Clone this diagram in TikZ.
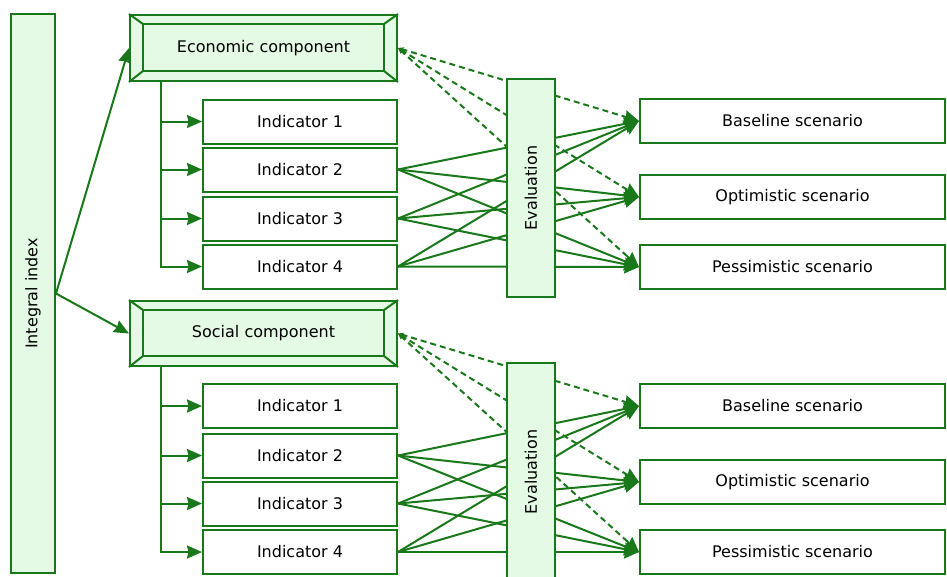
\documentclass[tikz,border=0pt]{standalone}
\usepackage{fontspec}
\setmainfont{DejaVu Sans}
\usepackage{tikz}
\usetikzlibrary{arrows.meta, positioning, calc}
\definecolor{linegreen}{RGB}{25,120,25}
\definecolor{boxgreen}{RGB}{228,250,228}

\begin{document}
\begin{tikzpicture}[
    x=1pt, y=-1pt,
    every node/.style={draw=linegreen, line width=2pt, font=\fontsize{16}{19}\selectfont, align=center, inner sep=0pt},
    plainbox/.style={fill=white, minimum width=194pt, minimum height=44pt},
    scenbox/.style={fill=white, minimum width=305pt, minimum height=44pt},
    compbox/.style={fill=boxgreen, minimum width=267pt, minimum height=66pt},
    evalbox/.style={fill=boxgreen, minimum width=48pt, minimum height=218pt},
    link/.style={draw=linegreen, line width=2pt, -{Stealth[length=15pt, width=13pt, inset=1.5pt]}},
    dlink/.style={link, dash pattern=on 6pt off 4pt, {Stealth[length=6pt, width=5pt]}-{Stealth[length=15pt, width=13pt, inset=1.5pt]}}
]
    \useasboundingbox (0,0) rectangle (947,576);

    \node[fill=boxgreen, minimum width=44pt, minimum height=559pt] (intidx) at (33,293.5) {\rotatebox{90}{Integral index}};

    % economic part
    \node[compbox] (econ) at (263.5,48) {Economic component};
    \node[plainbox] (e1) at (300,121.5) {Indicator 1};
    \node[plainbox] (e2) at (300,169.5) {Indicator 2};
    \node[plainbox] (e3) at (300,218.5) {Indicator 3};
    \node[plainbox] (e4) at (300,266.5) {Indicator 4};
    \node[scenbox] (eb) at (792.5,121) {Baseline scenario};
    \node[scenbox] (eo) at (792.5,197) {Optimistic scenario};
    \node[scenbox] (ep) at (792.5,267) {Pessimistic scenario};

    % social part
    \node[compbox, minimum height=65pt] (social) at (263.5,333.5) {Social component};
    \node[plainbox] (s1) at (300,406) {Indicator 1};
    \node[plainbox] (s2) at (300,455.5) {Indicator 2};
    \node[plainbox] (s3) at (300,503.5) {Indicator 3};
    \node[plainbox] (s4) at (300,552) {Indicator 4};
    \node[scenbox] (sb) at (792.5,406) {Baseline scenario};
    \node[scenbox] (so) at (792.5,482) {Optimistic scenario};
    \node[scenbox] (sp) at (792.5,552) {Pessimistic scenario};

    % bevelled frames
    \foreach \c in {econ,social} {
        \draw[linegreen, line width=2pt] ([shift={(14,10)}]\c.north west) rectangle ([shift={(-14,-11)}]\c.south east);
        \draw[linegreen, line width=2pt] (\c.north west) -- ([shift={(14,10)}]\c.north west)
            (\c.north east) -- ([shift={(-14,10)}]\c.north east)
            (\c.south west) -- ([shift={(14,-11)}]\c.south west)
            (\c.south east) -- ([shift={(-14,-11)}]\c.south east);
    }

    \draw[link] (intidx.east) -- (econ.west);
    \draw[link] (intidx.east) -- (social.west);

    % indicator trunks
    \coordinate (etrunk) at ([shift={(32,0)}]econ.south west);
    \coordinate (strunk) at ([shift={(32,0)}]social.south west);
    \draw[link] (etrunk) |- (e4.west);
    \draw[link] (strunk) |- (s4.west);
    \foreach \i in {1,2,3} {
        \draw[link] (etrunk |- e\i.west) -- (e\i.west);
        \draw[link] (strunk |- s\i.west) -- (s\i.west);
    }

    % indicators to scenarios
    \foreach \i in {2,3,4} {
        \foreach \s in {b,o,p} {
            \draw[link] (e\i.east) -- (e\s.west);
            \draw[link] (s\i.east) -- (s\s.west);
        }
    }
    \foreach \s in {b,o,p} {
        \draw[dlink] (econ.east) -- (e\s.west);
        \draw[dlink] (social.east) -- (s\s.west);
    }

    \node[evalbox] (eeval) at (531,188) {\rotatebox{90}{Evaluation}};
    \node[evalbox] (seval) at (531,472) {\rotatebox{90}{Evaluation}};
\end{tikzpicture}
\end{document}
